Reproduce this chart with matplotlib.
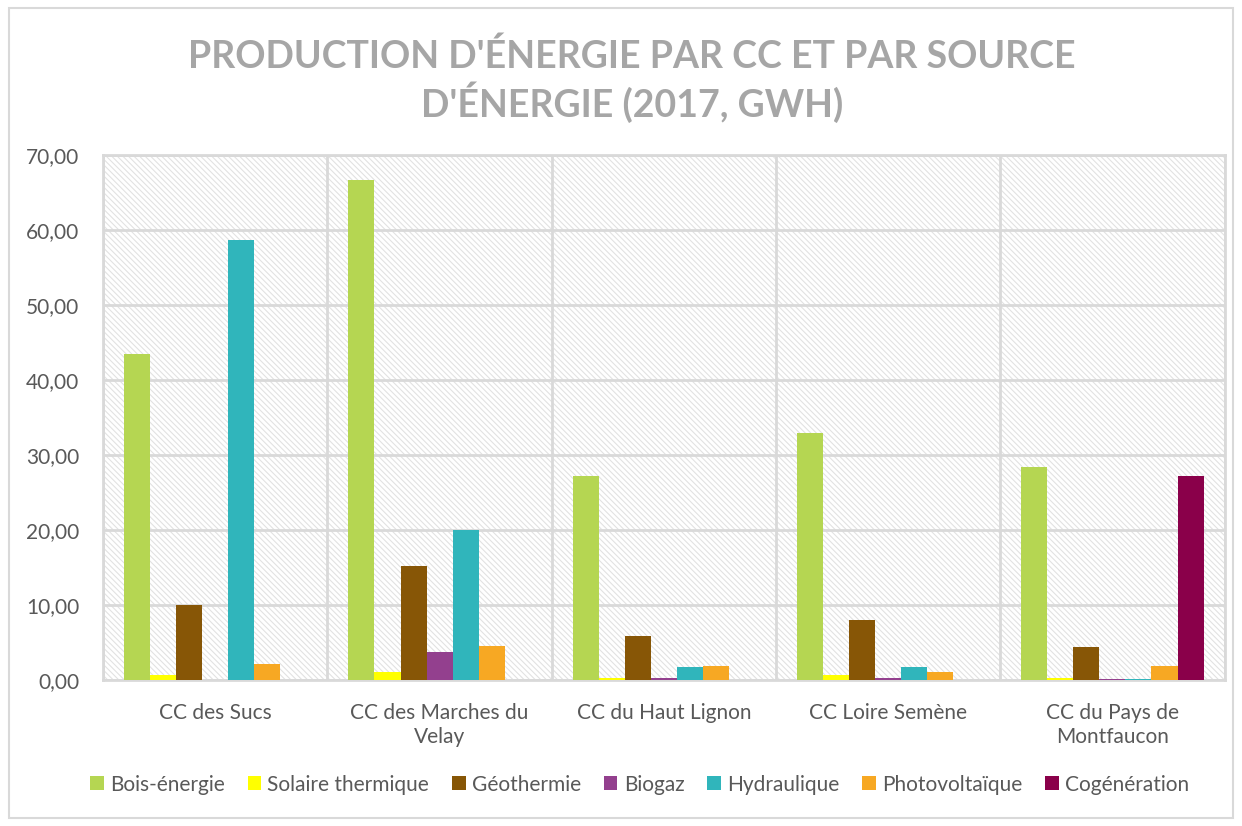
import numpy as np
import matplotlib
matplotlib.use("Agg")
import matplotlib.pyplot as plt
from matplotlib.patches import Rectangle

plt.rcParams['font.family'] = ['Lato', 'DejaVu Sans']
plt.rcParams['hatch.color'] = '#e2e2e2'
plt.rcParams['hatch.linewidth'] = 0.8

# données (GWh, 2017)
cc = ["CC des Sucs", "CC des Marches du\nVelay", "CC du Haut Lignon",
      "CC Loire Semène", "CC du Pays de\nMontfaucon"]
sources = ["Bois-énergie", "Solaire thermique", "Géothermie", "Biogaz",
           "Hydraulique", "Photovoltaïque", "Cogénération"]
bois = [43.5, 66.7, 27.2, 32.9, 28.4]
solaire = [0.6, 1.1, 0.3, 0.6, 0.3]
geothermie = [10.0, 15.2, 5.9, 8.0, 4.4]
biogaz = [0.0, 3.7, 0.2, 0.2, 0.05]
hydraulique = [58.7, 20.0, 1.7, 1.7, 0.1]
photovoltaique = [2.1, 4.5, 1.9, 1.0, 1.8]
cogeneration = [0.0, 0.0, 0.0, 0.0, 27.2]
series = [bois, solaire, geothermie, biogaz, hydraulique, photovoltaique, cogeneration]
couleurs = ['#b5d652', '#ffff00', '#875606', '#93408e', '#30b5bb', '#f7a823', '#8a004a']

fig = plt.figure(figsize=(12.42, 8.26), dpi=100)
ax = fig.add_axes([0.083, 0.177, 0.903, 0.635])

# fond hachuré
ax.patch.set_facecolor('white')
ax.patch.set_hatch('\\' * 6)
ax.patch.set_edgecolor('#e2e2e2')
ax.patch.set_linewidth(0)

x = np.arange(len(cc))
w = 0.116
for i, (vals, c) in enumerate(zip(series, couleurs)):
    ax.bar(x + (i - 3) * w, vals, width=w, color=c, label=sources[i], zorder=3)

ax.set_xlim(-0.5, len(cc) - 0.5)
ax.set_ylim(0, 70)
ax.set_yticks(np.arange(0, 71, 10))
ax.set_yticklabels([f"{v:.2f}".replace('.', ',') for v in np.arange(0, 71, 10)])
ax.set_xticks(x)
ax.set_xticklabels(cc)
ax.set_xticks(np.arange(-0.5, len(cc), 1), minor=True)

ax.grid(axis='y', color='#d9d9d9', linewidth=2, zorder=1)
ax.grid(axis='x', which='minor', color='#d9d9d9', linewidth=2, zorder=1)
ax.grid(axis='x', which='major', visible=False)
ax.tick_params(axis='both', which='both', length=0, labelcolor='#595959')
ax.tick_params(axis='x', labelsize=15, pad=17)
ax.tick_params(axis='y', labelsize=15, pad=17)
for s in ax.spines.values():
    s.set_color('#d9d9d9')
    s.set_linewidth(2)

fig.text(0.509, 0.902, "PRODUCTION D'ÉNERGIE PAR CC ET PAR SOURCE\nD'ÉNERGIE (2017, GWH)",
         ha='center', va='center', fontsize=27, fontweight='bold', color='#a6a6a6',
         linespacing=1.2)

fig.legend(loc='center', bbox_to_anchor=(0.515, 0.05), ncol=7, frameon=False,
           fontsize=15, labelcolor='#595959', handlelength=0.65, handleheight=0.65,
           handletextpad=0.3, columnspacing=1.1)

fig.patches.append(Rectangle((0.007, 0.01), 0.986, 0.98, transform=fig.transFigure,
                             fill=False, edgecolor='#d9d9d9', linewidth=1.5))

fig.savefig("out.png", dpi=100)
